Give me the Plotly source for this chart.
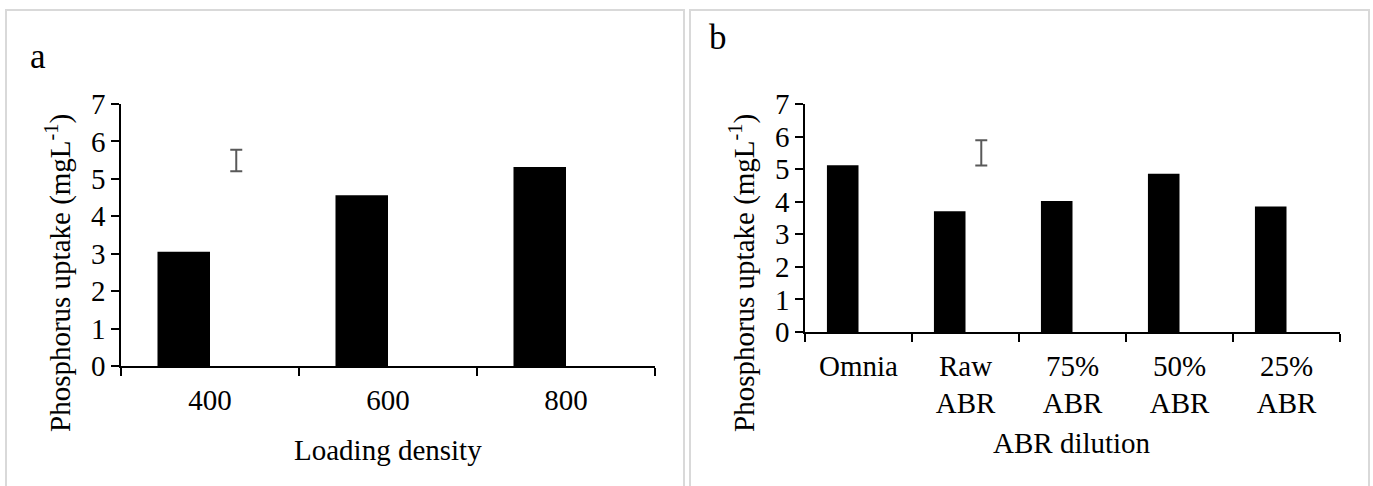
import plotly.graph_objects as go

W, H = 1373, 486

# ---- data ----
density_cats = ["400", "600", "800"]
density_uptake = [3.05, 4.56, 5.32]
density_err_center = [5.49, None, None]
density_err = [0.29, 0, 0]

dilution_cats = ["Omnia", "Raw<br>ABR", "75%<br>ABR", "50%<br>ABR", "25%<br>ABR"]
dilution_uptake = [5.12, 3.71, 4.02, 4.86, 3.85]
dilution_err_center = [None, 5.50, None, None, None]
dilution_err = [0, 0.39, 0, 0, 0]

y_ticks = [0, 1, 2, 3, 4, 5, 6, 7]

FONT = "Liberation Serif, Times New Roman, serif"
FS = 29


def px(x):
    return x / W


def py(y):
    return 1 - y / H


fig = go.Figure()

fig.add_trace(go.Bar(x=density_cats, y=density_uptake, marker=dict(color="black", line=dict(width=0)),
                     xaxis="x", yaxis="y", showlegend=False))
fig.add_trace(go.Bar(x=density_cats, y=density_err_center, marker=dict(color="rgba(0,0,0,0)", line=dict(width=0)),
                     error_y=dict(type="data", array=density_err, color="#595959", thickness=2, width=6),
                     xaxis="x", yaxis="y", showlegend=False))

fig.add_trace(go.Bar(x=dilution_cats, y=dilution_uptake, marker=dict(color="black", line=dict(width=0)),
                     xaxis="x2", yaxis="y2", showlegend=False))
fig.add_trace(go.Bar(x=dilution_cats, y=dilution_err_center, marker=dict(color="rgba(0,0,0,0)", line=dict(width=0)),
                     error_y=dict(type="data", array=dilution_err, color="#595959", thickness=2, width=6),
                     xaxis="x2", yaxis="y2", showlegend=False))

xcommon = dict(type="category", showline=True, linecolor="black", linewidth=1.5,
               ticks="outside", ticklen=8, tickwidth=1.5, tickcolor="black",
               tickson="boundaries", showgrid=False, zeroline=False, automargin=False,
               ticklabelstandoff=7,
               tickfont=dict(family=FONT, size=FS, color="black"), fixedrange=True)
ycommon = dict(range=[0, 7], tickvals=y_ticks, showline=True, linecolor="black", linewidth=1.5,
               ticks="outside", ticklen=8, tickwidth=1.5, tickcolor="black",
               showgrid=False, zeroline=False, automargin=False,
               tickfont=dict(family=FONT, size=FS, color="black"), fixedrange=True)

fig.update_layout(
    template="none",
    width=W, height=H,
    margin=dict(l=0, r=0, t=0, b=0, pad=0, autoexpand=False),
    paper_bgcolor="white", plot_bgcolor="white",
    barmode="group", bargap=0.41, bargroupgap=0,
    xaxis=dict(domain=[px(121), px(655)], anchor="y", range=[-0.5, 2.5], **xcommon),
    yaxis=dict(domain=[py(366), py(104)], anchor="x", **ycommon),
    xaxis2=dict(domain=[px(805), px(1340)], anchor="y2", range=[-0.5, 4.5], **xcommon),
    yaxis2=dict(domain=[py(332), py(104)], anchor="x2", **ycommon),
    shapes=[
        dict(type="rect", xref="paper", yref="paper", x0=px(6), x1=px(684), y0=py(500), y1=py(10),
             line=dict(color="#d9d9d9", width=2), fillcolor="rgba(0,0,0,0)", layer="below"),
        dict(type="rect", xref="paper", yref="paper", x0=px(690), x1=px(1369), y0=py(500), y1=py(10),
             line=dict(color="#d9d9d9", width=2), fillcolor="rgba(0,0,0,0)", layer="below"),
    ],
    annotations=[
        dict(text="a", x=px(28), y=py(56), xref="paper", yref="paper", xanchor="left", yanchor="middle",
             showarrow=False, font=dict(family=FONT, size=35, color="black")),
        dict(text="b", x=px(707), y=py(37), xref="paper", yref="paper", xanchor="left", yanchor="middle",
             showarrow=False, font=dict(family=FONT, size=35, color="black")),
        dict(text="Phosphorus uptake (mgL<sup>-1</sup>)", x=px(58), y=py(273), xref="paper", yref="paper",
             xanchor="center", yanchor="middle", textangle=-90, showarrow=False,
             font=dict(family=FONT, size=FS, color="black")),
        dict(text="Phosphorus uptake (mgL<sup>-1</sup>)", x=px(742), y=py(273), xref="paper", yref="paper",
             xanchor="center", yanchor="middle", textangle=-90, showarrow=False,
             font=dict(family=FONT, size=FS, color="black")),
        dict(text="Loading density", x=px(388), y=py(450), xref="paper", yref="paper",
             xanchor="center", yanchor="middle", showarrow=False,
             font=dict(family=FONT, size=FS, color="black")),
        dict(text="ABR dilution", x=px(1072), y=py(443), xref="paper", yref="paper",
             xanchor="center", yanchor="middle", showarrow=False,
             font=dict(family=FONT, size=FS, color="black")),
    ],
)

fig.write_html(
    "out.html",
    config={"displayModeBar": False},
    post_script=(
        "var gd=document.getElementById('{plot_id}');"
        "gd.style.position='fixed';gd.style.top='0px';gd.style.left='0px';"
        "document.body.style.margin='0px';document.body.style.padding='0px';"
        "document.body.style.overflow='hidden';document.documentElement.style.overflow='hidden';"
    ),
)
